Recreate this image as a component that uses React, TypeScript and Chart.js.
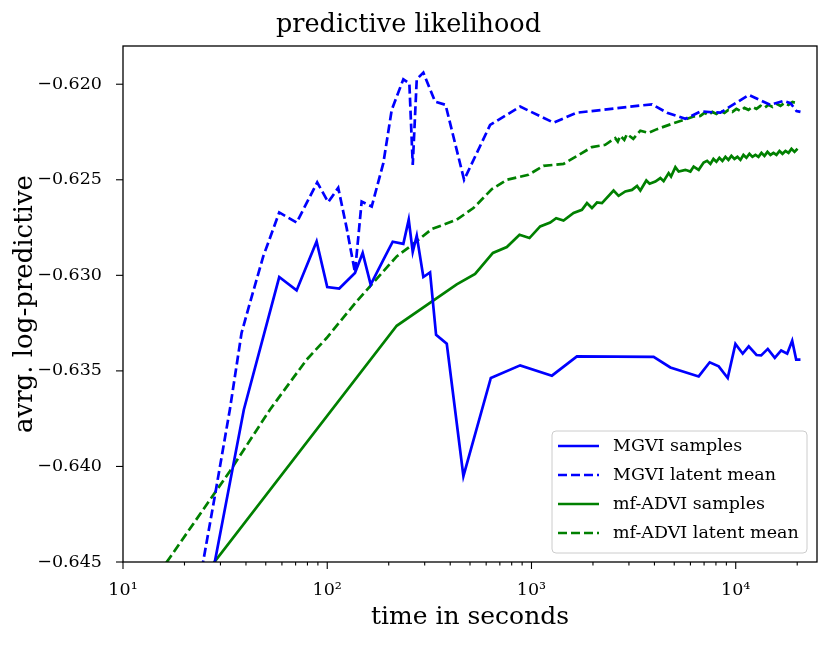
import { useEffect, useRef } from "react"
import { Chart, registerables } from "chart.js"

Chart.register(...registerables)

const FONT = "'DejaVu Serif', serif"

// MGVI samples (solid blue)
const mgviSamplesTime = [22.5, 39.05, 58.2, 70.8, 88.7, 100, 114.5, 136.7, 149.1, 163.2, 188.2, 209.2, 235.8, 250.6, 262.2, 274.3, 295.5, 318.7, 341.1, 384.8, 464.2, 632.4, 880.4, 1259, 1669, 3963, 4786, 6586, 7457, 8254, 9137, 9966, 10823, 11580, 12635, 13322, 14355, 15535, 16693, 17865, 18900, 19770, 20750]
const mgviSamplesLp = [-0.65045, -0.63703, -0.63009, -0.63079, -0.62823, -0.63061, -0.63069, -0.62988, -0.62883, -0.63049, -0.62919, -0.62824, -0.62835, -0.62709, -0.62877, -0.62793, -0.63009, -0.62985, -0.63311, -0.63358, -0.64051, -0.63537, -0.63471, -0.63525, -0.63424, -0.63427, -0.63482, -0.63529, -0.63455, -0.63476, -0.63537, -0.63359, -0.6341, -0.63372, -0.63417, -0.63419, -0.63385, -0.63432, -0.63393, -0.6341, -0.63342, -0.63441, -0.63441]

// MGVI latent mean (dashed blue)
const mgviLatentTime = [22.5, 28.15, 33.35, 38.05, 41.8, 48.6, 58.2, 70.8, 89.3, 101.1, 113.2, 124.5, 136.7, 147.4, 165.1, 188.2, 206.9, 235.8, 252.4, 262.2, 274.3, 295.5, 337.3, 379.6, 467.8, 627.3, 880.4, 1282, 1669, 3890, 4609, 5667, 6714, 8414, 11580, 14790, 17180, 18530, 19840, 20750]
const mgviLatentLp = [-0.6474, -0.64156, -0.63703, -0.63302, -0.63145, -0.62901, -0.62671, -0.62724, -0.62514, -0.62617, -0.62542, -0.62753, -0.62984, -0.62614, -0.6264, -0.62413, -0.62134, -0.61974, -0.61995, -0.62422, -0.61974, -0.61939, -0.62091, -0.62108, -0.625, -0.62213, -0.62117, -0.62201, -0.62149, -0.62105, -0.62149, -0.62181, -0.62143, -0.62149, -0.62056, -0.62108, -0.62087, -0.62099, -0.6214, -0.62145]

// mf-ADVI samples (solid green)
const adviSamplesTime = [15, 218.8, 430.5, 529.7, 647.3, 757.5, 873.7, 977.5, 1103, 1235, 1321, 1435, 1607, 1766, 1869, 1977, 2093, 2213, 2523, 2670, 2880, 3105, 3287, 3412, 3649, 3787, 4041, 4276, 4436, 4694, 4823, 5063, 5255, 5667, 5998, 6223, 6586, 6966, 7242, 7516, 7777, 8044, 8318, 8605, 8903, 9209, 9526, 9854, 10193, 10544, 10907, 11284, 11672, 12074, 12490, 12920, 13366, 13826, 14302, 14790, 15304, 15830, 16376, 16940, 17524, 18127, 18750, 19400, 20070]
const adviSamplesLp = [-0.64876, -0.63264, -0.63047, -0.62993, -0.62883, -0.62852, -0.62788, -0.62805, -0.62744, -0.62724, -0.62701, -0.62713, -0.62674, -0.62657, -0.62622, -0.62648, -0.62619, -0.62622, -0.62556, -0.62584, -0.62561, -0.62553, -0.62532, -0.62556, -0.62504, -0.62521, -0.62509, -0.62491, -0.62507, -0.62465, -0.62483, -0.62434, -0.62457, -0.62448, -0.62457, -0.62431, -0.62448, -0.6241, -0.62401, -0.62417, -0.62391, -0.62406, -0.62385, -0.62401, -0.6238, -0.62396, -0.62375, -0.62391, -0.6238, -0.62396, -0.6237, -0.62385, -0.62364, -0.6238, -0.6237, -0.6238, -0.62359, -0.62375, -0.62354, -0.6237, -0.62359, -0.6237, -0.62349, -0.62364, -0.62349, -0.62359, -0.62338, -0.62354, -0.62338]

// mf-ADVI latent mean (dashed green)
const adviLatentTime = [15, 16.81, 33.35, 52.4, 79.3, 99.3, 139.3, 161.9, 218.8, 254.3, 324.9, 430.5, 519.6, 640, 757.5, 966, 1145, 1435, 1977, 2298, 2570, 2646, 2722, 2847, 2935, 3151, 3412, 3733, 4119, 4966, 6223, 6714, 7025, 7349, 7688, 8044, 8414, 8803, 9209, 9634, 10079, 10544, 11031, 11540, 12074, 12635, 13217, 13826, 14464, 15131, 15830, 16560, 17325, 18127, 18960, 19840]
const adviLatentLp = [-0.64559, -0.64483, -0.64025, -0.63703, -0.63441, -0.63328, -0.63136, -0.63058, -0.62901, -0.62849, -0.62758, -0.62709, -0.62648, -0.62549, -0.625, -0.62474, -0.62427, -0.62417, -0.62329, -0.62317, -0.62282, -0.623, -0.6227, -0.62291, -0.62261, -0.62286, -0.62243, -0.62255, -0.62235, -0.62204, -0.62169, -0.62166, -0.6215, -0.62161, -0.62145, -0.62155, -0.6214, -0.6215, -0.62134, -0.62145, -0.62129, -0.6214, -0.62124, -0.62134, -0.62119, -0.62129, -0.62113, -0.62124, -0.62108, -0.62119, -0.62103, -0.62113, -0.62098, -0.62108, -0.62093, -0.62098]

// axis ticks
const xMajorTicks = [10, 100, 1000, 10000]
const xMajorLabels = ["10\u00b9", "10\u00b2", "10\u00b3", "10\u2074"]
const xMinorSteps = [2, 3, 4, 5, 6, 7, 8, 9]
const yTicks = [-0.645, -0.64, -0.635, -0.63, -0.625, -0.62]

const X_MIN = 10
const X_MAX = 25000
const LINE_W = 2.7

const xTickValues: number[] = []
xMajorTicks.forEach((m) => {
  xTickValues.push(m)
  xMinorSteps.forEach((s) => {
    if (m * s <= X_MAX) xTickValues.push(m * s)
  })
})

const pts = (t: number[], v: number[]) => t.map((x, i) => ({ x, y: v[i] }))

// frame, tick marks and legend box drawn on top
const framePlugin = {
  id: "frameAndLegend",
  afterDraw(chart: any) {
    const { ctx, chartArea, scales } = chart
    const { left, right, top, bottom } = chartArea
    ctx.save()
    ctx.strokeStyle = "#000"
    ctx.lineWidth = 1.3
    ctx.setLineDash([])
    ctx.strokeRect(left, top, right - left, bottom - top)

    ctx.lineWidth = 1.1
    xTickValues.forEach((v) => {
      const px = scales.x.getPixelForValue(v)
      const len = xMajorTicks.includes(v) ? 7 : 3.5
      ctx.beginPath()
      ctx.moveTo(px, bottom)
      ctx.lineTo(px, bottom + len)
      ctx.stroke()
    })
    yTicks.forEach((v) => {
      const py = scales.y.getPixelForValue(v)
      ctx.beginPath()
      ctx.moveTo(left, py)
      ctx.lineTo(left - 7, py)
      ctx.stroke()
    })

    // legend
    const bx = 552, by = 431, bw = 255, bh = 122
    ctx.beginPath()
    ctx.roundRect(bx, by, bw, bh, 4)
    ctx.fillStyle = "rgba(255,255,255,0.8)"
    ctx.fill()
    ctx.strokeStyle = "#cccccc"
    ctx.lineWidth = 1
    ctx.stroke()

    ctx.font = `17.5px ${FONT}`
    ctx.textBaseline = "middle"
    ctx.textAlign = "left"
    chart.data.datasets.forEach((ds: any, i: number) => {
      const cy = by + 15 + i * 29
      ctx.beginPath()
      ctx.strokeStyle = ds.borderColor
      ctx.lineWidth = ds.borderWidth
      ctx.setLineDash(ds.borderDash || [])
      ctx.moveTo(558, cy)
      ctx.lineTo(599, cy)
      ctx.stroke()
      ctx.setLineDash([])
      ctx.fillStyle = "#000"
      ctx.fillText(ds.label, 613, cy)
    })
    ctx.restore()
  },
}

export default function App() {
  const chartRef = useRef<HTMLCanvasElement>(null)
  const chartInstance = useRef<Chart | null>(null)

  useEffect(() => {
    if (!chartRef.current) return
    const ctx = chartRef.current.getContext("2d")
    if (!ctx) return
    if (chartInstance.current) chartInstance.current.destroy()

    chartInstance.current = new Chart(ctx, {
      type: "line",
      data: {
        datasets: [
          {
            label: "MGVI samples",
            data: pts(mgviSamplesTime, mgviSamplesLp),
            borderColor: "#0000ff",
            borderWidth: LINE_W,
          },
          {
            label: "MGVI latent mean",
            data: pts(mgviLatentTime, mgviLatentLp),
            borderColor: "#0000ff",
            borderWidth: LINE_W,
            borderDash: [9, 4],
          },
          {
            label: "mf-ADVI samples",
            data: pts(adviSamplesTime, adviSamplesLp),
            borderColor: "#008000",
            borderWidth: LINE_W,
          },
          {
            label: "mf-ADVI latent mean",
            data: pts(adviLatentTime, adviLatentLp),
            borderColor: "#008000",
            borderWidth: LINE_W,
            borderDash: [9, 4],
          },
        ],
      },
      options: {
        responsive: false,
        animation: false,
        devicePixelRatio: 1,
        layout: { padding: { left: 0, right: 14, top: 0, bottom: 0 } },
        elements: {
          point: { radius: 0 },
          line: { tension: 0, fill: false },
        },
        plugins: {
          legend: { display: false },
          tooltip: { enabled: false },
          title: {
            display: true,
            text: "predictive likelihood",
            color: "#000",
            font: { family: FONT, size: 25.5, weight: "normal" },
            padding: { top: 10, bottom: 5.4 },
          },
        },
        scales: {
          x: {
            type: "logarithmic",
            min: X_MIN,
            max: X_MAX,
            grid: { display: false },
            border: { display: false },
            afterBuildTicks: (scale: any) => {
              scale.ticks = xTickValues.map((value) => ({ value }))
            },
            afterFit: (scale: any) => {
              scale.height = 84
            },
            ticks: {
              autoSkip: false,
              maxRotation: 0,
              padding: 10,
              color: "#000",
              font: { family: FONT, size: 17.5 },
              callback: (value: any) => {
                const i = xMajorTicks.indexOf(Number(value))
                return i >= 0 ? xMajorLabels[i] : ""
              },
            },
            title: {
              display: true,
              text: "time in seconds",
              color: "#000",
              font: { family: FONT, size: 25 },
              padding: { top: 0, bottom: 14 },
            },
          },
          y: {
            type: "linear",
            min: -0.645,
            max: -0.618,
            grid: { display: false },
            border: { display: false },
            afterBuildTicks: (scale: any) => {
              scale.ticks = yTicks.map((value) => ({ value }))
            },
            afterFit: (scale: any) => {
              scale.width = 123
            },
            ticks: {
              padding: 13,
              color: "#000",
              font: { family: FONT, size: 17.5 },
              callback: (value: any) => {
                const v = Number(value)
                return (v < 0 ? "\u2212" : "") + Math.abs(v).toFixed(3)
              },
            },
            title: {
              display: true,
              text: "avrg. log-predictive",
              color: "#000",
              font: { family: FONT, size: 26 },
              padding: { top: 10, bottom: 0 },
            },
          },
        },
      },
      plugins: [framePlugin],
    })

    return () => {
      if (chartInstance.current) {
        chartInstance.current.destroy()
        chartInstance.current = null
      }
    }
  }, [])

  return (
    <div style={{ position: "absolute", left: 0, top: 0, width: 831, height: 646, background: "#fff" }}>
      <canvas ref={chartRef} width={831} height={646} />
    </div>
  )
}
